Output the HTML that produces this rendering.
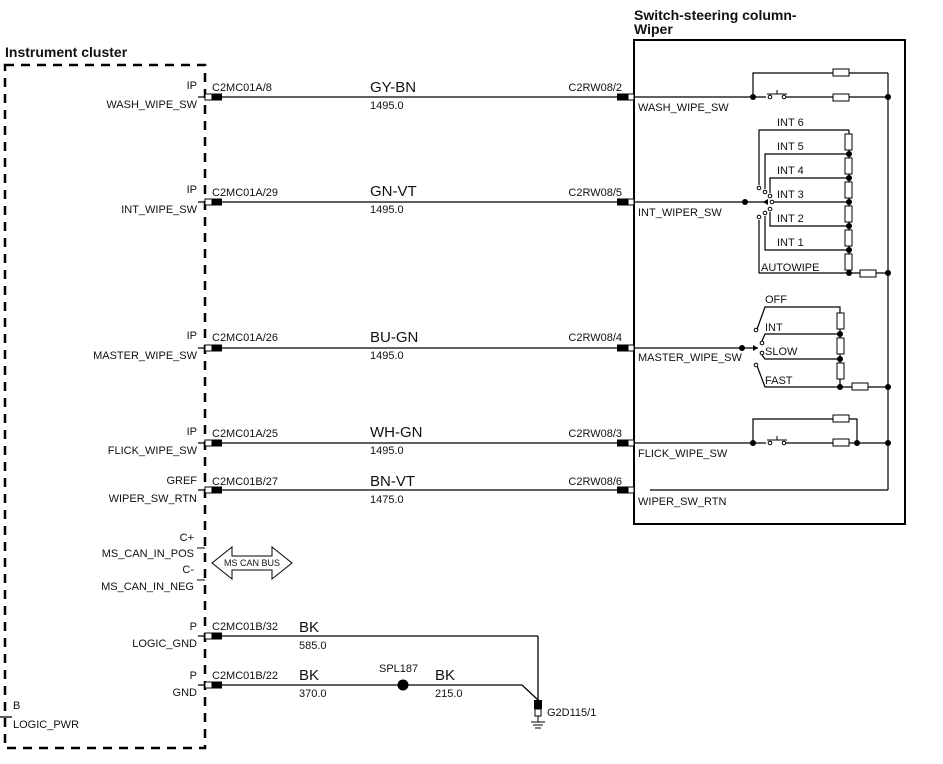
<!DOCTYPE html>
<html><head><meta charset="utf-8"><style>
html,body{margin:0;padding:0;background:#fff}
svg{display:block}
text{font-family:"Liberation Sans",sans-serif;fill:#111}
.s{font-size:11px}.b{font-size:15px}.t{font-size:14px;font-weight:bold}
</style></head><body>
<svg width="943" height="764" viewBox="0 0 943 764" xmlns="http://www.w3.org/2000/svg">
<defs>
<g id="lc"><rect x="212" y="-3.5" width="10" height="7" fill="#000"/><rect x="205" y="-3" width="7" height="6" fill="#fff" stroke="#000"/></g>
<g id="rc"><rect x="617" y="-3.5" width="11" height="7" fill="#000"/><rect x="628" y="-3" width="6" height="6" fill="#fff" stroke="#000"/></g>
</defs>
<g stroke="#000" fill="none">
<rect x="5" y="65" width="200" height="683" stroke-width="2.5" stroke-dasharray="9,7"/>
<rect x="634" y="40" width="271" height="484" stroke-width="2"/>
</g>
<text x="5" y="57" class="t">Instrument cluster</text>
<text x="634" y="20" class="t">Switch-steering column-</text>
<text x="634" y="34" class="t">Wiper</text>

<g stroke="#000" stroke-width="1.3" fill="none">
<line x1="198" y1="97" x2="634" y2="97"/>
<line x1="198" y1="202" x2="634" y2="202"/>
<line x1="198" y1="348" x2="634" y2="348"/>
<line x1="198" y1="443" x2="634" y2="443"/>
<line x1="198" y1="490" x2="634" y2="490"/>
<line x1="198" y1="636" x2="538" y2="636"/>
<line x1="538" y1="636" x2="538" y2="700"/>
<line x1="198" y1="685" x2="522" y2="685"/>
<line x1="522" y1="685" x2="538" y2="700"/>
<line x1="0" y1="717" x2="12" y2="717"/>
</g>
<use href="#lc" y="97"/><use href="#lc" y="202"/><use href="#lc" y="348"/><use href="#lc" y="443"/><use href="#lc" y="490"/><use href="#lc" y="636"/><use href="#lc" y="685"/>
<use href="#rc" y="97"/><use href="#rc" y="202"/><use href="#rc" y="348"/><use href="#rc" y="443"/><use href="#rc" y="490"/>
<rect x="534" y="700" width="8" height="9" fill="#000"/>
<rect x="535" y="709" width="6" height="7" fill="#fff" stroke="#000"/>
<g stroke="#000"><line x1="538" y1="716" x2="538" y2="722"/><line x1="531" y1="722" x2="545" y2="722"/><line x1="533" y1="725" x2="543" y2="725"/><line x1="535" y1="728" x2="541" y2="728"/></g>
<circle cx="403" cy="685" r="5.5" fill="#000"/>

<g class="s" text-anchor="end">
<text x="197" y="89">IP</text><text x="197" y="108">WASH_WIPE_SW</text>
<text x="197" y="193">IP</text><text x="197" y="213">INT_WIPE_SW</text>
<text x="197" y="339">IP</text><text x="197" y="359">MASTER_WIPE_SW</text>
<text x="197" y="435">IP</text><text x="197" y="454">FLICK_WIPE_SW</text>
<text x="197" y="484">GREF</text><text x="197" y="502">WIPER_SW_RTN</text>
<text x="194" y="541">C+</text><text x="194" y="557">MS_CAN_IN_POS</text>
<text x="194" y="573">C-</text><text x="194" y="590">MS_CAN_IN_NEG</text>
<text x="197" y="630">P</text><text x="197" y="647">LOGIC_GND</text>
<text x="197" y="679">P</text><text x="197" y="696">GND</text>
</g>
<g stroke="#000"><line x1="197" y1="548" x2="205" y2="548"/><line x1="197" y1="580" x2="205" y2="580"/></g>
<text x="13" y="709" class="s">B</text><text x="13" y="728" class="s">LOGIC_PWR</text>

<g class="s">
<text x="212" y="91">C2MC01A/8</text><text x="212" y="196">C2MC01A/29</text><text x="212" y="341">C2MC01A/26</text>
<text x="212" y="437">C2MC01A/25</text><text x="212" y="485">C2MC01B/27</text><text x="212" y="630">C2MC01B/32</text><text x="212" y="679">C2MC01B/22</text>
<text x="370" y="109">1495.0</text><text x="370" y="213">1495.0</text><text x="370" y="359">1495.0</text><text x="370" y="454">1495.0</text><text x="370" y="503">1475.0</text>
<text x="299" y="649">585.0</text><text x="299" y="697">370.0</text><text x="435" y="697">215.0</text>
<text x="379" y="672">SPL187</text><text x="547" y="716">G2D115/1</text>
</g>
<g class="s" text-anchor="end">
<text x="622" y="91">C2RW08/2</text><text x="622" y="196">C2RW08/5</text><text x="622" y="341">C2RW08/4</text><text x="622" y="437">C2RW08/3</text><text x="622" y="485">C2RW08/6</text>
</g>
<g class="b">
<text x="370" y="92">GY-BN</text><text x="370" y="196">GN-VT</text><text x="370" y="342">BU-GN</text><text x="370" y="437">WH-GN</text><text x="370" y="486">BN-VT</text>
<text x="299" y="632">BK</text><text x="299" y="680">BK</text><text x="435" y="680">BK</text>
</g>

<polygon points="212,563 232,547 232,556 272,556 272,547 292,563 272,579 272,570 232,570 232,579" fill="#fff" stroke="#000"/>
<text x="252" y="566" font-size="9" text-anchor="middle">MS CAN BUS</text>

<g class="s">
<text x="638" y="111">WASH_WIPE_SW</text><text x="638" y="216">INT_WIPER_SW</text><text x="638" y="361">MASTER_WIPE_SW</text>
<text x="638" y="457">FLICK_WIPE_SW</text><text x="638" y="505">WIPER_SW_RTN</text>
<text x="777" y="126">INT 6</text><text x="777" y="150">INT 5</text><text x="777" y="174">INT 4</text><text x="777" y="198">INT 3</text>
<text x="777" y="222">INT 2</text><text x="777" y="246">INT 1</text><text x="761" y="271">AUTOWIPE</text>
<text x="765" y="303">OFF</text><text x="765" y="331">INT</text><text x="765" y="355">SLOW</text><text x="765" y="384">FAST</text>
</g>

<g stroke="#000" stroke-width="1.2" fill="none">
<line x1="634" y1="97" x2="888" y2="97"/>
<polyline points="753,97 753,73 888,73"/>
<line x1="888" y1="73" x2="888" y2="490"/>
<line x1="634" y1="202" x2="768" y2="202"/>
<polyline points="759,185 759,130 849,130"/>
<polyline points="765,189 765,154 849,154"/>
<polyline points="770,193 770,178 849,178"/>
<line x1="772" y1="202" x2="849" y2="202"/>
<polyline points="770,212 770,226 849,226"/>
<polyline points="765,216 765,250 849,250"/>
<polyline points="759,220 759,273 888,273"/>
<line x1="849" y1="130" x2="849" y2="273"/>
<line x1="634" y1="348" x2="758" y2="348"/>
<polyline points="756,332 765,307 840,307 840,387"/>
<polyline points="762,341 765,334 840,334"/>
<polyline points="762,355 765,359 840,359"/>
<polyline points="756,363 765,387 888,387"/>
<line x1="634" y1="443" x2="888" y2="443"/>
<polyline points="753,443 753,419 857,419 857,443"/>
</g>
<line x1="650" y1="490" x2="888" y2="490" stroke="#000" stroke-width="1.2"/>
<g fill="#fff" stroke="#000">
<rect x="766" y="92" width="20" height="8" fill="#fff" stroke="none"/>
<rect x="766" y="438" width="20" height="8" fill="#fff" stroke="none"/>
<circle cx="770" cy="97" r="1.8"/><circle cx="784" cy="97" r="1.8"/>
<circle cx="770" cy="443" r="1.8"/><circle cx="784" cy="443" r="1.8"/>
<circle cx="759" cy="188" r="1.8"/><circle cx="765" cy="192" r="1.8"/><circle cx="770" cy="196" r="1.8"/><circle cx="772" cy="202" r="1.8"/>
<circle cx="770" cy="209" r="1.8"/><circle cx="765" cy="213" r="1.8"/><circle cx="759" cy="217" r="1.8"/>
<circle cx="756" cy="330" r="1.8"/><circle cx="762" cy="343" r="1.8"/><circle cx="762" cy="353" r="1.8"/><circle cx="756" cy="365" r="1.8"/>
</g>
<g stroke="#000" fill="none"><polyline points="767,94 787,94"/><line x1="777" y1="94" x2="777" y2="90"/><polyline points="767,440 787,440"/><line x1="777" y1="440" x2="777" y2="436"/></g>
<polygon points="763,202 768,199 768,205" fill="#000"/>
<polygon points="758,348 753,345 753,351" fill="#000"/>
<g fill="#fff" stroke="#000">
<rect x="833" y="69" width="16" height="7"/><rect x="833" y="94" width="16" height="7"/>
<rect x="833" y="415" width="16" height="7"/><rect x="833" y="439" width="16" height="7"/>
<rect x="860" y="270" width="16" height="7"/><rect x="852" y="383" width="16" height="7"/>
<rect x="845" y="134" width="7" height="16"/><rect x="845" y="158" width="7" height="16"/><rect x="845" y="182" width="7" height="16"/>
<rect x="845" y="206" width="7" height="16"/><rect x="845" y="230" width="7" height="16"/><rect x="845" y="254" width="7" height="16"/>
<rect x="837" y="313" width="7" height="16"/><rect x="837" y="338" width="7" height="16"/><rect x="837" y="363" width="7" height="16"/>
</g>
<g fill="#000">
<circle cx="753" cy="97" r="3"/><circle cx="888" cy="97" r="3"/>
<circle cx="745" cy="202" r="3"/>
<circle cx="849" cy="154" r="3"/><circle cx="849" cy="178" r="3"/><circle cx="849" cy="202" r="3"/><circle cx="849" cy="226" r="3"/><circle cx="849" cy="250" r="3"/><circle cx="849" cy="273" r="3"/><circle cx="888" cy="273" r="3"/>
<circle cx="742" cy="348" r="3"/><circle cx="840" cy="334" r="3"/><circle cx="840" cy="359" r="3"/><circle cx="840" cy="387" r="3"/><circle cx="888" cy="387" r="3"/>
<circle cx="753" cy="443" r="3"/><circle cx="857" cy="443" r="3"/><circle cx="888" cy="443" r="3"/>
</g>
</svg>
</body></html>
